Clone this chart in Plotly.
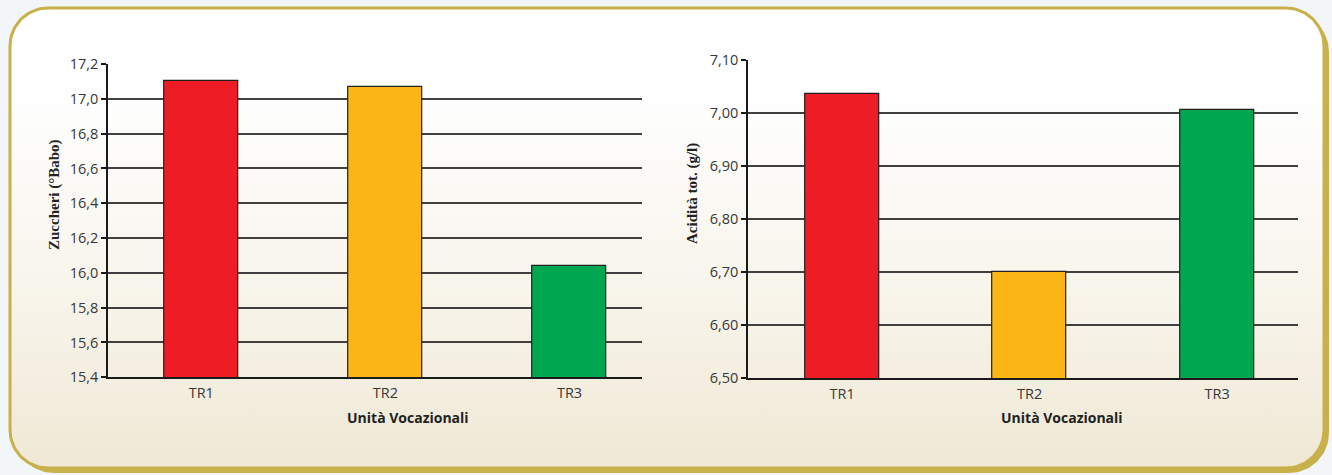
import numpy as np
import plotly.graph_objects as go

# --- data ---
categories = ["TR1", "TR2", "TR3"]
zuccheri = [17.10, 17.07, 16.04]       # °Babo
acidita = [7.035, 6.70, 7.005]         # g/l
bar_colors = ["#ee1c25", "#fbb616", "#00a650"]

zuc_ticks = [15.4, 15.6, 15.8, 16.0, 16.2, 16.4, 16.6, 16.8, 17.0, 17.2]
zuc_ticktext = ["15,4", "15,6", "15,8", "16,0", "16,2", "16,4", "16,6", "16,8", "17,0", "17,2"]
aci_ticks = [6.50, 6.60, 6.70, 6.80, 6.90, 7.00, 7.10]
aci_ticktext = ["6,50", "6,60", "6,70", "6,80", "6,90", "7,00", "7,10"]

W, H = 1332, 475
GOLD = "#c8b04a"
TICK_FONT = dict(family="Open Sans", size=14.5, color="#383838")


def rounded_rect(x0, y0, x1, y1, r, n=24):
    """Closed outline of a rounded rectangle in pixel coordinates (y down)."""
    xs, ys = [], []
    corners = [
        (x1 - r, y0 + r, -90, 0),
        (x1 - r, y1 - r, 0, 90),
        (x0 + r, y1 - r, 90, 180),
        (x0 + r, y0 + r, 180, 270),
    ]
    for cx, cy, a0, a1 in corners:
        t = np.radians(np.linspace(a0, a1, n))
        xs.extend(cx + r * np.cos(t))
        ys.extend(cy + r * np.sin(t))
    xs.append(xs[0])
    ys.append(ys[0])
    return xs, ys


fig = go.Figure()

# panel shadow and panel (on a full-page helper subplot)
sx, sy = rounded_rect(14, 12, 1329, 473, 40)
fig.add_trace(go.Scatter(x=sx, y=sy, mode="lines", fill="toself",
                         fillcolor=GOLD, line=dict(color=GOLD, width=0),
                         hoverinfo="skip", showlegend=False, xaxis="x", yaxis="y"))
px, py = rounded_rect(10, 8, 1324, 468, 38)
fig.add_trace(go.Scatter(
    x=px, y=py, mode="lines", fill="toself",
    fillgradient=dict(type="vertical",
                      colorscale=[[0, "#efe8d5"], [0.4, "#f8f5ec"],
                                  [0.8, "#fefefe"], [1, "#ffffff"]]),
    line=dict(color=GOLD, width=3),
    hoverinfo="skip", showlegend=False, xaxis="x", yaxis="y"))

# left chart: sugars
fig.add_trace(go.Bar(x=[0, 1, 2], y=zuccheri, width=0.40,
                     marker=dict(color=bar_colors, line=dict(color="#231f20", width=1.2)),
                     showlegend=False, xaxis="x2", yaxis="y2"))
# right chart: total acidity
fig.add_trace(go.Bar(x=[0, 1, 2], y=acidita, width=0.395,
                     marker=dict(color=bar_colors, line=dict(color="#231f20", width=1.2)),
                     showlegend=False, xaxis="x3", yaxis="y3"))

hidden = dict(visible=False, showgrid=False, zeroline=False, fixedrange=True)
cat_axis = dict(tickmode="array", tickvals=[0, 1, 2], ticktext=categories,
                showgrid=False, zeroline=False, showline=True, linecolor="#1a1a1a",
                linewidth=2, ticks="", tickfont=TICK_FONT, ticklabelstandoff=1)
val_axis = dict(showgrid=True, gridcolor="#404040", gridwidth=1.5, zeroline=False,
                showline=True, linecolor="#1a1a1a", linewidth=2, ticks="outside",
                ticklen=5, tickcolor="#1a1a1a", tickwidth=1.5, tickfont=TICK_FONT,
                tickmode="array")

fig.update_layout(
    width=W, height=H,
    margin=dict(l=0, r=0, t=0, b=0, autoexpand=False),
    paper_bgcolor="#f3f6f8",
    plot_bgcolor="rgba(0,0,0,0)",
    xaxis=dict(domain=[0, 1], range=[0, W], anchor="y", **hidden),
    yaxis=dict(domain=[0, 1], range=[H, 0], anchor="x", **hidden),
    xaxis2=dict(domain=[108.3 / W, 641.7 / W], range=[-0.505, 2.392], anchor="y2", **cat_axis),
    yaxis2=dict(domain=[1 - 377.3 / H, 1 - 64 / H], range=[15.4, 17.2], anchor="x2",
                tickvals=zuc_ticks, ticktext=zuc_ticktext, **val_axis),
    xaxis3=dict(domain=[748.3 / W, 1298.3 / W], range=[-0.5, 2.433], anchor="y3", **cat_axis),
    yaxis3=dict(domain=[1 - 378.3 / H, 1 - 60 / H], range=[6.5, 7.1], anchor="x3",
                tickvals=aci_ticks, ticktext=aci_ticktext, **val_axis),
    bargap=0,
)

title_font = dict(family="Open Sans", size=14, color="#222222")
serif_font = dict(family="Liberation Serif", size=15, color="#222222")
annotations = [
    dict(text="<b>Unità Vocazionali</b>", x=408 / W, y=1 - 417 / H, font=title_font),
    dict(text="<b>Unità Vocazionali</b>", x=1062 / W, y=1 - 417 / H, font=title_font),
    dict(text="<b>Zuccheri (°Babo)</b>", x=55 / W, y=1 - 195 / H, textangle=-90, font=serif_font),
    dict(text="<b>Acidità tot. (g/l)</b>", x=692 / W, y=1 - 193 / H, textangle=-90, font=serif_font),
]
for a in annotations:
    fig.add_annotation(xref="paper", yref="paper", showarrow=False,
                       xanchor="center", yanchor="middle", **a)

fig.write_html("out.html")
